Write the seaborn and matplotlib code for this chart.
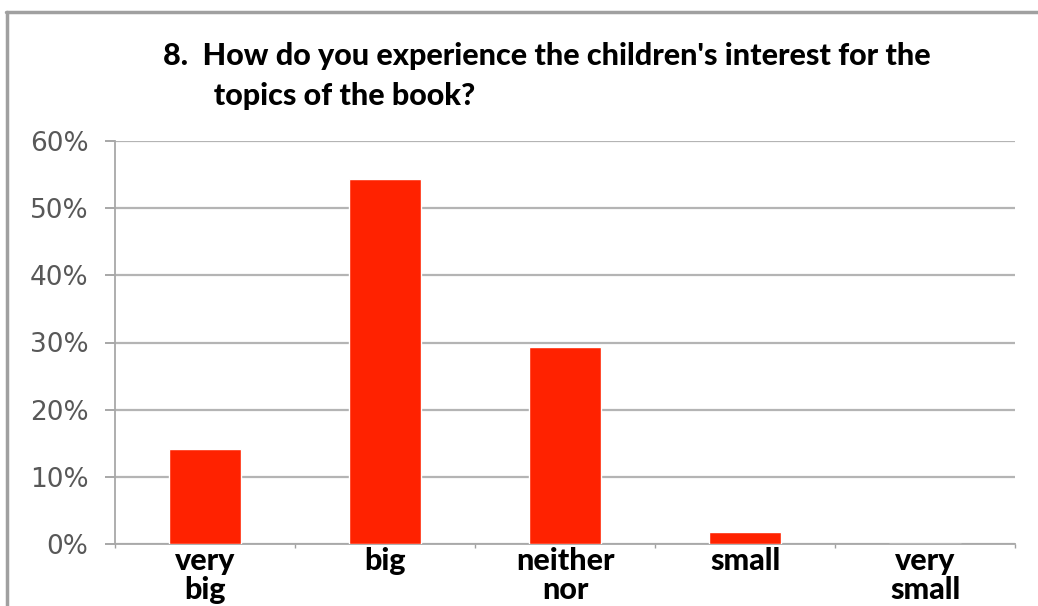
import matplotlib
matplotlib.use("Agg")
import matplotlib.pyplot as plt
import seaborn as sns
import pandas as pd
from matplotlib.lines import Line2D
from matplotlib.ticker import FixedLocator

categories = ["very\nbig", "big", "neither\nnor", "small", "very\nsmall"]
values = [14.1, 54.3, 29.4, 1.8, 0.0]
yticks = [0, 10, 20, 30, 40, 50, 60]
ytick_labels = ["0%", "10%", "20%", "30%", "40%", "50%", "60%"]
title = "8.  How do you experience the children's interest for the\n       topics of the book?"

sns.set_theme(style="white")
plt.rcParams['font.family'] = ['Lato', 'DejaVu Sans']

df = pd.DataFrame({"category": categories, "value": values})

fig = plt.figure(figsize=(10.38, 6.06), dpi=100)
ax = fig.add_axes([115/1038, 1-544/606, 900/1038, 403/606])

sns.barplot(data=df, x="category", y="value", color="#ff2200", width=0.4,
            saturation=1, ax=ax, zorder=3)

ax.set_xlim(-0.5, 4.5)
ax.set_ylim(0, 60)
ax.set_yticks(yticks)
ax.set_yticklabels(ytick_labels, family="DejaVu Sans", fontsize=19, color="#585858")
ax.yaxis.grid(True, color="#b4b4b4", linewidth=1.6, zorder=0)
ax.set_axisbelow(True)
ax.tick_params(axis="y", length=7, width=1.3, color="#a0a0a0", pad=12, left=True)
ax.tick_params(axis="x", length=0, pad=2)
ax.xaxis.set_minor_locator(FixedLocator([-0.5, 0.5, 1.5, 2.5, 3.5, 4.5]))
ax.tick_params(axis="x", which="minor", length=3, width=1.0, color="#a0a0a0", bottom=True)
for lab in ax.get_xticklabels():
    lab.set_fontweight("black")
    lab.set_fontsize(22)
    lab.set_color("black")
    lab.set_linespacing(1.05)
ax.set_xlabel("")
ax.set_ylabel("")
for s in ["top", "right"]:
    ax.spines[s].set_visible(False)
ax.spines["left"].set_color("#a8a8a8")
ax.spines["left"].set_linewidth(1.3)
ax.spines["bottom"].set_color("#a8a8a8")
ax.spines["bottom"].set_linewidth(1.3)

fig.text(163/1038, 1-42/606, title, fontsize=22, fontweight="black", color="black",
         ha="left", va="top", linespacing=1.5)

# frame lines
fig.add_artist(Line2D([6/1038, 1], [1-12/606, 1-12/606], color="#a0a0a0", linewidth=2.5,
                      transform=fig.transFigure))
fig.add_artist(Line2D([7/1038, 7/1038], [0, 1-12/606], color="#a0a0a0", linewidth=2.5,
                      transform=fig.transFigure))

fig.savefig("out.png", dpi=100)
